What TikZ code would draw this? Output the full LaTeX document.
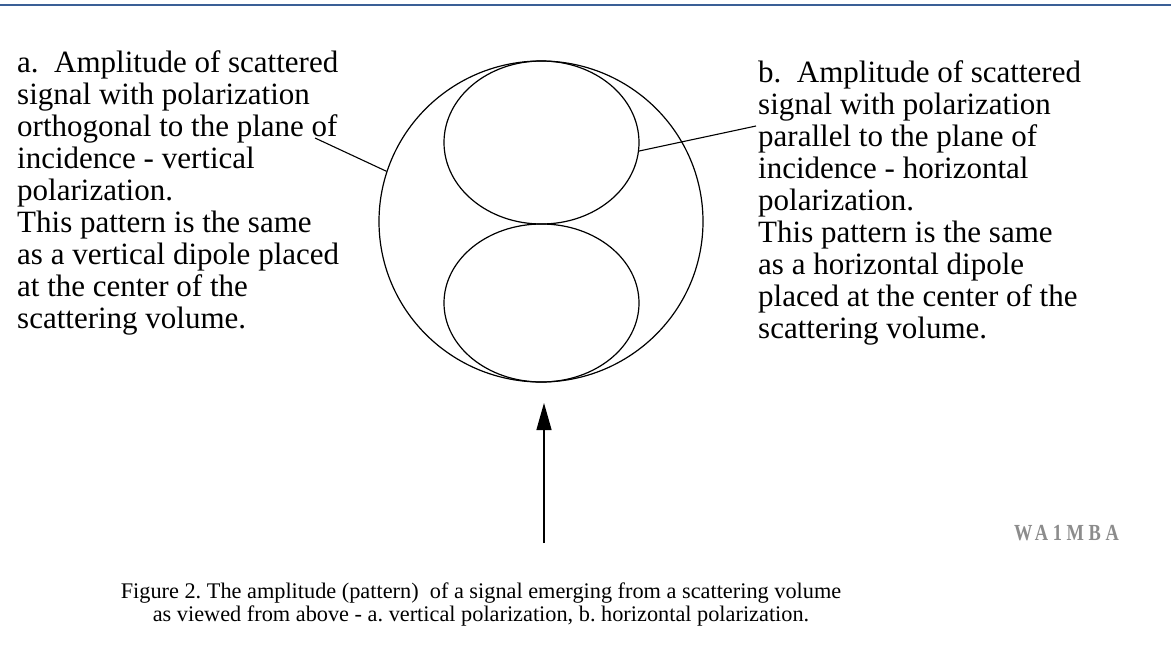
\documentclass[tikz,border=0pt]{standalone}
\usepackage{fontspec}
\setmainfont{Liberation Serif}
\newfontfamily\markfont[LetterSpace=20,FakeStretch=0.8]{Liberation Serif}
\usetikzlibrary{shapes.geometric,arrows.meta}
\definecolor{topblue}{RGB}{58,95,150}
\definecolor{markgray}{RGB}{140,140,140}
\begin{document}
\frenchspacing
\begin{tikzpicture}[x=1pt,y=-1pt,
  outline/.style={draw=black,line width=1.2pt,inner sep=0pt,ellipse},
  lead/.style={draw=black,line width=1.1pt},
  note/.style={anchor=north west,inner sep=0pt,align=left,font=\fontsize{31}{32}\selectfont},
  capt/.style={anchor=north,inner sep=0pt,align=center,font=\fontsize{22.3}{23}\selectfont}]
\useasboundingbox (0,0) rectangle (1171,653);
\fill[white] (0,0) rectangle (1171,653);
\draw[line width=2.4pt,topblue] (0,5) -- (1171,5);
% pattern
\node[outline,minimum width=324pt,minimum height=321pt] (big) at (541,221.5) {};
\node[outline,minimum width=195pt,minimum height=163pt] (up) at (541.5,142.5) {};
\node[outline,minimum width=195pt,minimum height=158pt] (low) at (541.5,303) {};
% texts
\node[note] (la) at (17,50.5) {a.\ \ Amplitude of scattered\\signal with polarization\\orthogonal to the plane of\\incidence - vertical\\polarization.\\This pattern is the same\\as a vertical dipole placed\\at the center of the\\scattering volume.};
\node[note] (lb) at (758,60.5) {b.\ \ Amplitude of scattered\\signal with polarization\\parallel to the plane of\\incidence - horizontal\\polarization.\\This pattern is the same\\as a horizontal dipole\\placed at the center of the\\scattering volume.};
% leaders
\coordinate (ta) at (315,138);
\coordinate (tb) at (756,126);
\draw[lead] (ta) -- (big.162);
\draw[lead] (tb) -- (up.-5);
% arrow
\coordinate (src) at (544,543);
\coordinate (tip) at (544,403);
\draw[line width=1.3pt,-{Triangle[length=27pt,width=15pt]}] (src) -- (tip);
% mark
\node[anchor=base east,inner sep=0pt,text=markgray] (mark) at (1119,540) {\fontsize{23}{23}\selectfont\markfont\bfseries WA1MBA};
% caption
\node[capt] (cap) at (481,583) {Figure 2. The amplitude (pattern)\ \ of a signal emerging from a scattering volume\\as viewed from above - a. vertical polarization, b. horizontal polarization.};
\end{tikzpicture}
\end{document}
